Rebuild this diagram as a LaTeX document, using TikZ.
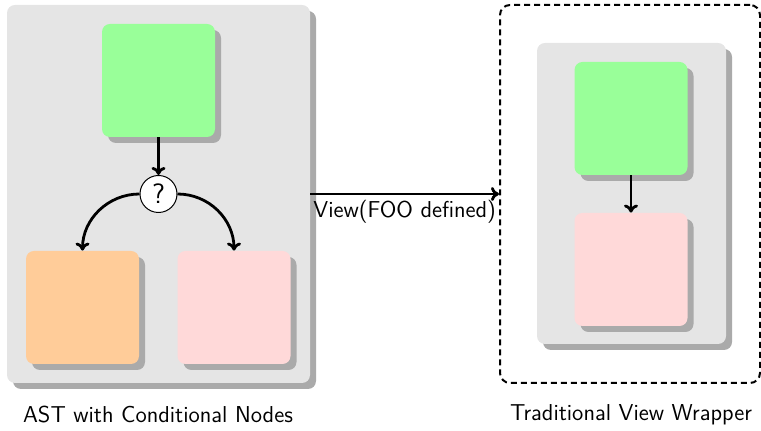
\documentclass[tikz,border=0pt]{standalone}
\usetikzlibrary{shadows,arrows.meta}
\definecolor{panelgray}{HTML}{E5E5E5}
\definecolor{shadowgray}{HTML}{AAAAAA}
\definecolor{nodegreen}{HTML}{99FF99}
\definecolor{nodeorange}{HTML}{FFCC99}
\definecolor{nodepink}{HTML}{FFD9D9}
\begin{document}
\begin{tikzpicture}[x=0.5pt,y=-0.5pt,font=\sffamily,
  shade box/.style={rectangle,rounded corners=4pt,inner sep=0pt,
    drop shadow={shadow xshift=3pt,shadow yshift=-3pt,fill=shadowgray,opacity=1}},
  panel/.style={shade box,fill=panelgray},
  block/.style={shade box,minimum width=56.5pt,minimum height=56.5pt},
  flow/.style={-{To[length=4pt,width=7pt]},line width=1.4pt},
  textsize/.style={font=\sffamily\fontsize{11.5}{14}\selectfont},
  caption/.style={textsize}]
\useasboundingbox (0,0) rectangle (761,431);

% left panel: AST with a conditional branch
\node[panel,minimum width=151.5pt,minimum height=189pt] (astpanel) at (158.5,194) {};
\node[block,fill=nodegreen] (astroot) at (158.5,80.5) {};
\node[draw,circle,fill=white,line width=0.5pt,minimum size=18.5pt,inner sep=0pt,
      font=\sffamily\fontsize{14}{16}\selectfont] (cond) at (158.5,194) {?};
\node[block,fill=nodeorange] (branchA) at (82.5,307.5) {};
\node[block,fill=nodepink] (branchB) at (234,307.5) {};

\draw[flow] (astroot.south) -- (cond.north);
\draw[flow] (cond.west) to[out=180,in=90] (branchA.north);
\draw[flow] (cond.east) to[out=0,in=90] (branchB.north);

% right side: dashed wrapper around the plain view
\node[draw,line width=1pt,rounded corners=5pt,dash pattern=on 3pt off 2pt,
      minimum width=130pt,minimum height=189pt] (wrapper) at (630,194) {};
\node[panel,minimum width=94.5pt,minimum height=150.5pt] (viewpanel) at (631.5,193.5) {};
\node[block,fill=nodegreen] (viewtop) at (631,118.5) {};
\node[block,fill=nodepink] (viewbottom) at (631,269.5) {};
\draw[flow] (viewtop.south) -- (viewbottom.north);

% transformation arrow
\draw[flow] (astpanel.east) -- node[below,textsize,inner sep=2.5pt] {View(FOO defined)} (wrapper.west);

% captions
\node[caption] (capL) at (158,415) {AST with Conditional Nodes};
\node[caption] (capR) at (631,415) {Traditional View Wrapper};
\end{tikzpicture}
\end{document}
